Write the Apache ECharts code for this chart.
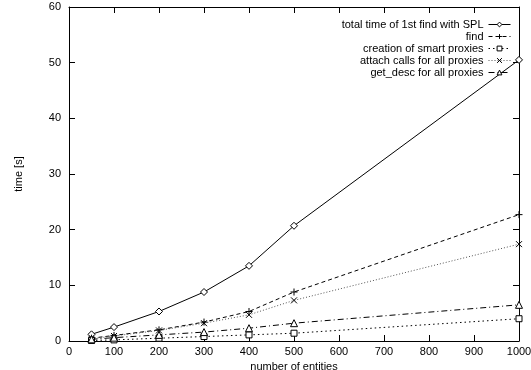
<!DOCTYPE html>
<html>
<head>
<meta charset="utf-8">
<script src="https://cdn.jsdelivr.net/npm/echarts@6/dist/echarts.min.js"></script>
<style>
html,body{margin:0;padding:0;background:#fff;}
#main{width:531px;height:370px;}
</style>
</head>
<body>
<div id="main"></div>
<script>
var entities = [50, 100, 200, 300, 400, 500, 1000];
var totalTime = [1.2, 2.5, 5.3, 8.8, 13.5, 20.7, 50.5];
var findTime = [0.5, 1.0, 2.0, 3.4, 5.3, 8.8, 22.7];
var creationTime = [0.1, 0.2, 0.5, 0.8, 1.1, 1.4, 4.0];
var attachTime = [0.4, 0.9, 1.9, 3.2, 4.7, 7.3, 17.4];
var descTime = [0.3, 0.6, 1.1, 1.6, 2.3, 3.2, 6.5];
var names = ['total time of 1st find with SPL', 'find', 'creation of smart proxies',
  'attach calls for all proxies', 'get_desc for all proxies'];

function pairs(ys) {
  return entities.map(function (x, i) { return [x, ys[i]]; });
}

var diamondPath = 'path://M5,0L10,5L5,10L0,5Z';
var plusPath = 'path://M5,0L5,10M0,5L10,5';
var rectPath = 'path://M0,0L10,0L10,10L0,10Z';
var crossPath = 'path://M0,0L10,10M10,0L0,10';
var trianglePath = 'path://M5,0L10,9L0,9Z';
var font = 'Liberation Sans';

var myChart = echarts.init(document.getElementById('main'));

function mkSeries(name, ys, symbol, size, dash, color) {
  return {
    name: name,
    type: 'line',
    data: pairs(ys),
    symbol: symbol,
    symbolSize: size,
    showSymbol: true,
    animation: false,
    lineStyle: { color: color, width: 1, type: dash },
    itemStyle: { color: '#fff', borderColor: '#000', borderWidth: 1 }
  };
}

var series = [
  mkSeries(names[0], totalTime, diamondPath, 7, 'solid', '#000'),
  mkSeries(names[1], findTime, plusPath, 7, [4, 3], '#000'),
  mkSeries(names[2], creationTime, rectPath, 6, [1.5, 3], '#000'),
  mkSeries(names[3], attachTime, crossPath, 6, [1, 2], '#555'),
  mkSeries(names[4], descTime, trianglePath, 7, [6, 3, 1, 3], '#000')
];

// gnuplot style: ticks inside on all four sides
var axisCommon = {
  min: 0,
  axisLine: { show: true, onZero: false, lineStyle: { color: '#000', width: 1 } },
  axisTick: { show: true, inside: true, length: 6, lineStyle: { color: '#000' } },
  splitLine: { show: false }
};

var option = {
  backgroundColor: '#fff',
  textStyle: { fontFamily: font },
  grid: { left: 69, right: 12, top: 7, bottom: 29, containLabel: false, outerBoundsMode: 'none' },
  legend: {
    orient: 'vertical',
    right: 15,
    top: 14,
    itemGap: 1,
    itemWidth: 22,
    itemHeight: 6,
    align: 'right',
    data: names,
    itemStyle: { borderWidth: 1 },
    lineStyle: { width: 1 },
    textStyle: { fontFamily: font, fontSize: 11, color: '#000' }
  },
  xAxis: [
    Object.assign({}, axisCommon, {
      type: 'value', max: 1000, interval: 100,
      name: 'number of entities', nameLocation: 'middle', nameGap: 18,
      nameTextStyle: { fontFamily: font, fontSize: 11, color: '#000' },
      axisLabel: { fontFamily: font, fontSize: 11, color: '#000', margin: 5,
        formatter: function (v) { return String(v); } }
    }),
    Object.assign({}, axisCommon, {
      type: 'value', max: 1000, interval: 100, position: 'top',
      axisLabel: { show: false }
    })
  ],
  yAxis: [
    Object.assign({}, axisCommon, {
      type: 'value', max: 60, interval: 10,
      name: 'time [s]', nameLocation: 'middle', nameGap: 45,
      nameTextStyle: { fontFamily: font, fontSize: 11, color: '#000' },
      axisLabel: { fontFamily: font, fontSize: 11, color: '#000', margin: 8 }
    }),
    Object.assign({}, axisCommon, {
      type: 'value', max: 60, interval: 10, position: 'right',
      axisLabel: { show: false }
    })
  ],
  series: series
};

myChart.setOption(option);
</script>
</body>
</html>
